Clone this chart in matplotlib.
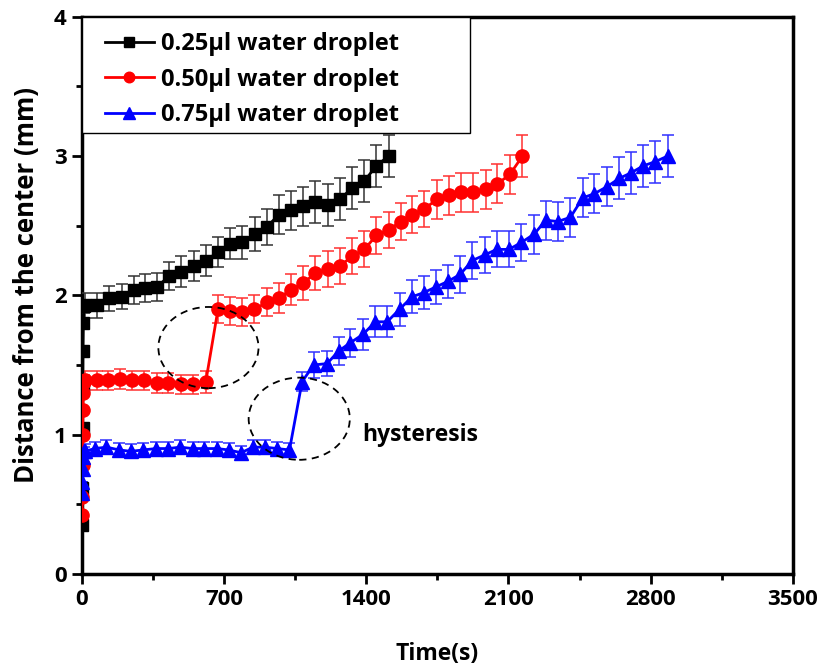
import numpy as np
import matplotlib
matplotlib.use("Agg")
import matplotlib.pyplot as plt
from matplotlib.patches import Ellipse, Rectangle
from matplotlib.lines import Line2D

plt.rcParams['font.family'] = ['Open Sans', 'DejaVu Sans']
plt.rcParams['font.weight'] = 'bold'

# 0.25 ul droplet
t_025 = [1, 2, 3, 4, 5, 7, 10,
         15, 75, 135, 195, 255, 310, 370, 430, 490, 550, 610, 670, 730, 790,
         850, 910, 970, 1030, 1090, 1150, 1210, 1270, 1330, 1390, 1450, 1510]
d_025 = [0.35, 0.62, 1.05, 1.35, 1.6, 1.8, 1.92,
         1.93, 1.93, 1.98, 1.99, 2.04, 2.05, 2.06, 2.14, 2.17, 2.21, 2.25, 2.31, 2.37, 2.38,
         2.44, 2.49, 2.58, 2.61, 2.64, 2.67, 2.65, 2.69, 2.77, 2.82, 2.93, 3.00]
e_025 = [0, 0, 0, 0, 0, 0, 0.05,
         0.09, 0.09, 0.09, 0.09, 0.10, 0.10, 0.10, 0.10, 0.11, 0.11, 0.11, 0.11, 0.11, 0.12,
         0.12, 0.13, 0.14, 0.14, 0.14, 0.15, 0.15, 0.15, 0.15, 0.15, 0.15, 0.15]

# 0.50 ul droplet
t_050 = [1, 2, 3, 4, 5, 7, 10,
         15, 72, 130, 187, 245, 306, 368, 426, 487, 549, 610,
         670, 730, 788, 849, 911, 968, 1030, 1091, 1150, 1211, 1270, 1330, 1391, 1449,
         1511, 1569, 1627, 1684, 1750, 1807, 1864, 1927, 1988, 2046, 2108, 2169]
d_050 = [0.42, 0.55, 0.78, 1.0, 1.18, 1.3, 1.38,
         1.39, 1.39, 1.39, 1.40, 1.39, 1.39, 1.37, 1.37, 1.36, 1.36, 1.38,
         1.90, 1.89, 1.88, 1.90, 1.95, 1.98, 2.04, 2.09, 2.16, 2.19, 2.21, 2.28, 2.33, 2.43,
         2.47, 2.53, 2.58, 2.62, 2.69, 2.72, 2.74, 2.74, 2.76, 2.80, 2.87, 3.00]
e_050 = [0, 0, 0, 0, 0, 0, 0.05,
         0.07, 0.07, 0.07, 0.07, 0.07, 0.07, 0.07, 0.07, 0.07, 0.07, 0.08,
         0.10, 0.10, 0.10, 0.10, 0.10, 0.11, 0.11, 0.12, 0.12, 0.13, 0.13, 0.13, 0.13, 0.13,
         0.13, 0.13, 0.13, 0.13, 0.14, 0.14, 0.14, 0.14, 0.14, 0.14, 0.14, 0.15]

# 0.75 ul droplet
t_075 = [1, 2, 3, 5, 8,
         15, 64, 121, 184, 240, 302, 364, 426, 484, 545, 602, 665, 722, 784, 842, 903, 960, 1022,
         1084, 1141, 1207, 1264, 1322, 1384, 1445, 1503, 1564, 1626, 1684, 1742, 1802, 1862,
         1922, 1983, 2042, 2103, 2164, 2227, 2284, 2342, 2405, 2466, 2523, 2585, 2646, 2704,
         2764, 2823, 2884]
d_075 = [0.58, 0.66, 0.75, 0.84, 0.88,
         0.88, 0.90, 0.91, 0.89, 0.88, 0.89, 0.90, 0.90, 0.91, 0.90, 0.90, 0.90, 0.89, 0.87, 0.91, 0.91, 0.90, 0.89,
         1.38, 1.50, 1.51, 1.60, 1.66, 1.72, 1.81, 1.81, 1.90, 1.99, 2.02, 2.06, 2.10, 2.15,
         2.25, 2.29, 2.33, 2.33, 2.38, 2.44, 2.54, 2.53, 2.56, 2.70, 2.73, 2.78, 2.84, 2.88,
         2.93, 2.96, 3.00]
e_075 = [0, 0, 0, 0, 0.03,
         0.05, 0.05, 0.05, 0.05, 0.05, 0.05, 0.05, 0.05, 0.05, 0.05, 0.05, 0.05, 0.05, 0.05, 0.05, 0.05, 0.05, 0.05,
         0.07, 0.09, 0.09, 0.10, 0.10, 0.11, 0.11, 0.11, 0.12, 0.12, 0.12, 0.12, 0.12, 0.13,
         0.13, 0.13, 0.13, 0.13, 0.13, 0.14, 0.14, 0.14, 0.14, 0.14, 0.14, 0.14, 0.15, 0.15,
         0.15, 0.15, 0.15]

series = [
    (t_025, d_025, e_025, 'black', '#333333', 's', 8.5, '0.25\u03bcl water droplet'),
    (t_050, d_050, e_050, 'red', '#ff3030', 'o', 9.5, '0.50\u03bcl water droplet'),
    (t_075, d_075, e_075, 'blue', '#3030ff', '^', 10, '0.75\u03bcl water droplet'),
]

fig = plt.figure(figsize=(8.19, 6.72), dpi=100)
ax = fig.add_axes([0.100, 0.146, 0.868, 0.829])

handles = []
for t, d, e, c, ec, m, ms, lab in series:
    ax.errorbar(t, d, yerr=e, color=c, ecolor=ec, marker=m, ms=ms, lw=2,
                elinewidth=1.1, capsize=4.5, capthick=1.1, zorder=3)
    handles.append(Line2D([], [], color=c, marker=m, ms=ms * 0.8, lw=2, label=lab))

# hysteresis marks
ax.add_patch(Ellipse((623, 1.625), 493, 0.583, fill=False, ls=(0, (4, 3)),
                     lw=1.3, ec='black', zorder=4))
ax.add_patch(Ellipse((1070, 1.114), 498, 0.59, fill=False, ls=(0, (4, 3)),
                     lw=1.3, ec='black', zorder=4))
ax.text(1378, 1.0, 'hysteresis', fontsize=16.5, fontweight='bold', va='center')

ax.set_xlim(0, 3500)
ax.set_ylim(0, 4)
ax.set_xticks([0, 700, 1400, 2100, 2800, 3500])
ax.set_yticks([0, 1, 2, 3, 4])
ax.set_xticks(np.arange(350, 3500, 700), minor=True)
ax.set_yticks(np.arange(0.5, 4, 1), minor=True)
ax.tick_params(which='major', direction='out', length=7, width=2, labelsize=16, pad=4)
ax.tick_params(which='minor', direction='out', length=4, width=2)
for lb in ax.get_xticklabels() + ax.get_yticklabels():
    lb.set_fontweight('bold')
for s in ax.spines.values():
    s.set_linewidth(2.5)

ax.set_xlabel('Time(s)', fontsize=16.5, fontweight='bold')
ax.xaxis.set_label_coords(0.5, -0.122)
ax.set_ylabel('Distance from the center (mm)', fontsize=18.5, fontweight='bold')
ax.yaxis.set_label_coords(-0.059, 0.518)

# legend box
ax.add_patch(Rectangle((0, 1 - 0.208), 0.546, 0.208, transform=ax.transAxes,
                       fc='white', ec='black', lw=1, zorder=5))
leg = ax.legend(handles=handles, loc='upper left', bbox_to_anchor=(0.032, 0.973),
                borderaxespad=0, frameon=False, prop={'size': 17, 'weight': 'bold'},
                handlelength=2.1, labelspacing=0.5, borderpad=0, handletextpad=0.3)
leg.set_zorder(6)

fig.savefig('out.png', dpi=100)
